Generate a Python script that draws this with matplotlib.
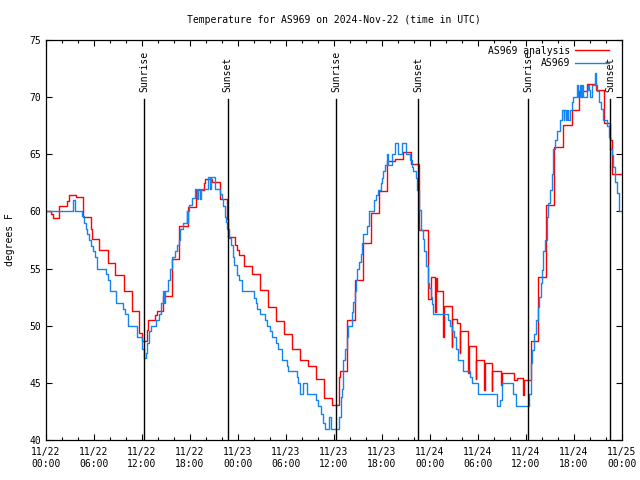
import numpy as np
import matplotlib
matplotlib.use('Agg')
import matplotlib.pyplot as plt

# hours since 2024-11-22 00:00 UTC
red_hours = [0.0, 0.6, 0.9, 1.67, 2.67, 2.83, 3.75, 4.67, 5.6, 5.75, 6.67, 7.7, 8.67, 9.75,
             10.75, 11.6, 11.95, 12.6, 12.8, 13.625, 13.83, 14.58, 15.71, 16.67, 17.79, 18.75,
             19.75, 19.875, 20.7, 21.75, 22.67, 22.8, 23.6, 23.9, 24.08, 24.79, 25.75, 26.8,
             27.75, 28.75, 29.75, 30.75, 31.75, 32.75, 33.75, 34.75, 35.8, 36.67, 36.8, 37.67,
             38.67, 39.67, 40.67, 41.67, 42.67, 43.67, 44.67, 45.67, 46.67, 47.7, 47.8, 48.15,
             48.6, 48.72, 48.9, 49.67, 49.78, 49.875, 50.7, 50.8, 50.9, 51.4, 51.7, 51.8, 51.96,
             52.78, 52.86, 52.875, 53.7, 53.8, 53.96, 54.75, 54.85, 55.0, 55.7, 55.8, 56.0,
             56.875, 56.95, 56.96, 58.5, 58.83, 59.67, 59.8, 60.58, 61.54, 62.5, 63.54, 64.67,
             65.7, 66.67, 67.67, 68.75, 69.75, 70.5, 70.7]
red_temp = [60.0, 59.8, 59.4, 60.45, 60.9, 61.4, 61.3, 59.5, 58.5, 57.6, 56.6, 55.5, 54.4, 53.0,
            51.3, 49.4, 48.7, 49.6, 50.5, 50.9, 51.3, 52.6, 55.8, 58.7, 60.4, 61.9,
            62.5, 62.8, 62.6, 61.1, 59.3, 57.8, 57.1, 56.6, 56.2, 55.2, 54.5, 53.1,
            51.6, 50.4, 49.25, 48.0, 47.0, 46.5, 45.3, 43.7, 43.05, 45.5, 46.0, 50.5,
            54.0, 57.2, 59.9, 61.8, 64.4, 64.6, 65.2, 64.15, 58.4, 56.9, 52.3, 54.3,
            51.2, 54.2, 53.0, 49.0, 51.7, 51.75, 48.1, 50.6, 50.6, 50.2, 47.6, 49.5, 49.5,
            45.9, 48.2, 48.2, 45.3, 47.0, 47.0, 44.4, 46.7, 46.7, 44.3, 46.0, 46.0,
            44.8, 45.9, 45.9, 45.25, 45.4, 43.9, 45.25, 48.7, 54.3, 60.56, 65.67, 67.56,
            68.88, 70.5, 71.15, 70.6, 67.7, 66.25, 63.3]

obs_hours = [0.0, 3.33, 3.6, 4.5, 4.7, 5.0, 5.17, 5.33, 5.62, 5.87, 6.17, 6.37, 7.5, 7.75, 8.04,
             8.75, 9.67, 9.83, 10.3, 11.4, 11.95, 12.2, 12.5, 12.67, 12.92, 13.125, 13.75, 14.1,
             14.4, 14.6, 14.75, 14.85, 15.3, 15.5, 15.71, 16.125, 16.33, 16.6, 16.75, 17.08,
             17.58, 17.65, 17.75, 17.85, 18.2, 18.6, 18.9, 19.0, 19.25, 19.35, 20.29, 20.5,
             20.6, 21.125, 21.75, 21.96, 22.17, 22.375, 22.5, 22.67, 22.92, 23.08, 23.33,
             23.54, 23.83, 23.875, 24.08, 24.5, 26.04, 26.25, 26.375, 26.75, 27.42, 27.58,
             28.04, 28.25, 28.75, 28.96, 29.46, 30.08, 30.29, 31.33, 31.54, 31.8, 32.08, 32.67,
             33.75, 33.96, 34.375, 34.67, 34.92, 35.42, 35.625, 36.6, 36.83, 37.0, 37.17,
             37.42, 37.67, 37.79, 38.2, 38.42, 38.58, 38.75, 38.92, 39.08, 39.33, 39.54, 39.67,
             40.17, 40.42, 41.0, 41.25, 41.54, 41.85, 41.96, 42.17, 42.375, 42.6, 42.7, 43.29,
             43.67, 44.04, 44.46, 45.0, 45.5, 45.7, 45.92, 46.25, 46.42, 46.67, 46.83, 47.08,
             47.25, 47.5, 47.7, 47.875, 48.125, 48.29, 48.42, 50.29, 50.5, 50.79, 51.04, 51.2,
             51.46, 52.17, 53.0, 53.29, 54.04, 56.42, 56.7, 56.96, 58.42, 58.71, 60.375, 60.58,
             60.7, 61.0, 61.25, 61.5, 61.67, 61.83, 62.0, 62.17, 62.375, 62.58, 62.79, 63.0,
             63.2, 63.42, 63.625, 63.83, 64.25, 64.46, 64.7, 64.8, 65.0, 65.1, 65.29, 65.5,
             65.7, 65.92, 66.33, 66.5, 66.7, 66.9, 67.0, 67.17, 67.58, 67.75, 67.85, 68.0,
             68.2, 68.625, 68.75, 68.92, 69.17, 69.33, 69.58, 70.08, 70.33, 70.5, 70.7, 70.92,
             71.17, 71.42, 71.58]
obs_temp = [60.0, 61.0, 60.0, 59.6, 59.0, 58.5, 58.0, 57.5, 57.0, 56.5, 56.0, 55.0, 54.5, 54.0, 53.0,
            52.0, 51.5, 51.0, 50.0, 49.0, 48.0, 47.2, 47.6, 48.5, 49.5, 50.0, 50.5, 51.0,
            52.0, 53.0, 52.0, 53.0, 54.0, 55.0, 56.0, 56.5, 57.1, 57.5, 58.5, 59.0,
            60.0, 59.0, 60.0, 60.6, 61.15, 62.0, 61.1, 62.0, 61.1, 62.0, 63.0, 62.0,
            63.0, 62.0, 61.5, 61.06, 60.5, 59.5, 59.1, 58.5, 57.7, 57.1, 56.05,
            55.3, 55.0, 54.4, 54.0, 53.0, 52.4, 52.0, 51.5, 51.0, 50.5, 50.0,
            49.5, 49.0, 48.5, 48.0, 47.0, 46.5, 46.0, 45.5, 45.0, 44.0, 45.0, 44.0,
            43.5, 43.0, 42.3, 41.5, 41.0, 42.0, 41.0, 42.0, 43.8, 44.5, 47.0,
            48.0, 49.0, 50.0, 51.2, 52.1, 53.0, 54.0, 55.0, 55.6, 56.3, 57.2, 58.0,
            58.7, 60.0, 61.0, 61.4, 61.9, 62.5, 62.9, 63.5, 64.06, 65.0, 64.06, 65.0,
            66.0, 65.0, 66.0, 65.0, 64.5, 63.9, 63.5, 62.9, 61.9, 60.1, 58.4, 57.6,
            56.5, 55.2, 53.7, 53.3, 52.5, 51.9, 51.0, 50.5, 50.0, 49.5, 49.0, 48.0,
            47.0, 46.0, 45.5, 45.0, 44.0, 43.0, 43.5, 45.0, 44.0, 43.0, 44.0, 46.7,
            47.9, 49.3, 50.5, 51.67, 52.5, 53.7, 54.9, 56.5, 57.5, 59.5, 60.7, 61.9,
            63.3, 65.5, 66.25, 67.0, 68.0, 68.9, 68.0, 68.9, 68.0, 68.9, 68.0, 68.9,
            69.6, 70.0, 71.1, 70.0, 71.1, 70.0, 71.1, 70.0, 70.6, 71.1, 70.6, 70.0,
            71.1, 72.08, 71.1, 70.5, 69.6, 69.0, 68.0, 67.5, 66.5, 65.5, 64.9, 63.9,
            62.6, 61.6, 60.0]

sunrise = [12.25, 36.26, 60.3]
sunset = [22.7, 46.54, 70.5]
end_hour = 72

mono = 'DejaVu Sans Mono'
plt.rcParams['font.family'] = mono
plt.rcParams['font.size'] = 7

fig = plt.figure(figsize=(6.4, 4.8), dpi=100)
ax = fig.add_axes([46 / 640, 40 / 480, 576 / 640, 400 / 480])

rt = np.append(red_hours, end_hour)
rv = np.append(red_temp, red_temp[-1])
ot = np.append(obs_hours, end_hour)
ov = np.append(obs_temp, obs_temp[-1])
ax.step(rt, rv, where='post', color='#ff0000', lw=1.0, label='AS969 analysis')
ax.step(ot, ov, where='post', color='#1485f0', lw=1.0, label='AS969')

for h in sunrise:
    ax.plot([h, h], [40, 69.8], color='black', lw=1.0)
    ax.text(h, 70.45, 'Sunrise', rotation=90, ha='center', va='bottom', fontsize=7)
for h in sunset:
    ax.plot([h, h], [40, 69.8], color='black', lw=1.0)
    ax.text(h, 70.45, 'Sunset', rotation=90, ha='center', va='bottom', fontsize=7)

ax.set_xlim(0, end_hour)
ax.set_ylim(40, 75)
major = np.arange(0, end_hour + 1, 6)
ax.set_xticks(major)
ax.set_xticklabels(['11/%d\n%02d:00' % (22 + h // 24, h % 24) for h in major])
ax.set_xticks(np.arange(0, end_hour + 1, 2), minor=True)
ax.set_yticks(np.arange(40, 76, 5))
ax.tick_params(which='both', direction='in', top=True, right=True, labelsize=7)
ax.tick_params(which='major', length=4, width=0.8)
ax.tick_params(which='minor', length=2.5, width=0.8)
ax.tick_params(axis='x', pad=5)
for s in ax.spines.values():
    s.set_linewidth(0.9)

ax.set_title('Temperature for AS969 on 2024-Nov-22 (time in UTC)', fontsize=7, pad=12)
ax.set_ylabel('degrees F', fontsize=7, labelpad=10)

ax.legend(loc='upper right', bbox_to_anchor=(1 - 7 / 576, 1.0), frameon=False,
          markerfirst=False, fontsize=7, handlelength=3.5, borderaxespad=0.2,
          labelspacing=0.25, handletextpad=0.5)

fig.savefig('out.png', dpi=100)
